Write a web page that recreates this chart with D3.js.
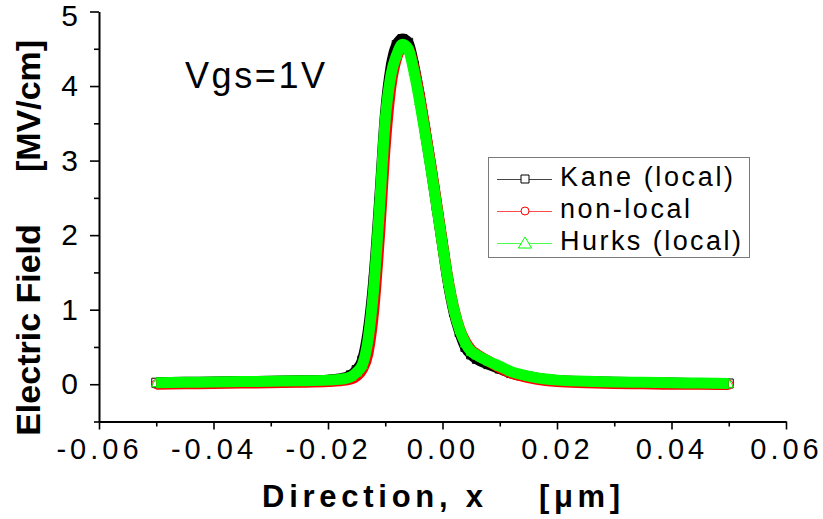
<!DOCTYPE html>
<html><head><meta charset="utf-8">
<script src="https://cdn.jsdelivr.net/npm/d3@7"></script>
<style>body{margin:0;background:#fff} svg{display:block}</style>
</head><body>
<svg id="c" width="823" height="519"></svg>
<script>
// ---- data ----
const xPos = [-0.050,-0.045,-0.040,-0.035,-0.030,-0.025,-0.020,-0.018,-0.016,-0.015,-0.014,-0.013,-0.012,-0.011,-0.010,-0.009,-0.008,-0.007,-0.006,-0.005,-0.004,-0.003,-0.002,-0.001,0.000,0.001,0.002,0.003,0.004,0.005,0.006,0.008,0.010,0.012,0.015,0.018,0.020,0.025,0.030,0.035,0.040,0.045,0.050];
const kane = [0.02,0.025,0.03,0.035,0.04,0.045,0.055,0.07,0.12,0.19,0.32,0.70,1.40,2.45,3.60,4.25,4.55,4.63,4.58,4.27,3.85,3.38,2.90,2.39,1.87,1.36,0.97,0.70,0.50,0.40,0.34,0.27,0.21,0.15,0.10,0.065,0.05,0.035,0.025,0.02,0.015,0.01,0.01];
const nonLocal = [0.0,0.005,0.01,0.015,0.02,0.025,0.035,0.045,0.07,0.11,0.20,0.42,1.00,2.00,3.20,4.00,4.38,4.52,4.50,4.24,3.86,3.40,2.92,2.41,1.89,1.39,1.01,0.74,0.57,0.46,0.40,0.31,0.22,0.15,0.09,0.05,0.035,0.02,0.01,0.005,0.0,0.0,-0.005];
const hurks = [0.02,0.025,0.03,0.035,0.04,0.045,0.055,0.065,0.10,0.16,0.26,0.60,1.30,2.37,3.55,4.15,4.42,4.56,4.50,4.20,3.80,3.35,2.88,2.38,1.87,1.38,1.00,0.73,0.55,0.44,0.39,0.31,0.24,0.17,0.11,0.07,0.055,0.04,0.03,0.025,0.02,0.015,0.01];
const seriesNames = ["Kane (local)", "non-local", "Hurks (local)"];
const xTicks = [-0.06,-0.04,-0.02,0.00,0.02,0.04,0.06];
const xTickLabels = ["-0.06","-0.04","-0.02","0.00","0.02","0.04","0.06"];
const xMinor = [-0.05,-0.03,-0.01,0.01,0.03,0.05];
const yTicks = [0,1,2,3,4,5];
const yMinor = [-0.5,0.5,1.5,2.5,3.5,4.5];

const FONT = "'Liberation Sans', Arial, sans-serif";
const svg = d3.select("#c");
const x = d3.scaleLinear().domain([-0.06, 0.06]).range([99, 786]);
const y = d3.scaleLinear().domain([-0.5, 5]).range([421.5, 11.5]);

// ---- series ----
const series = [
  {name: seriesNames[0], vals: kane, color: "#000000", shape: "square"},
  {name: seriesNames[1], vals: nonLocal, color: "#ff0000", shape: "circle"},
  {name: seriesNames[2], vals: hurks, color: "#00ff00", shape: "triangle"}
];
const line = d3.line().x((d,i)=>x(xPos[i])).y(d=>y(d)).curve(d3.curveMonotoneX);
function markerPath(shape, s) {
  if (shape === "square") return `M${-s/2},${-s/2}h${s}v${s}h${-s}Z`;
  if (shape === "circle") { const r = s/2; return `M${-r},0a${r},${r} 0 1,0 ${2*r},0a${r},${r} 0 1,0 ${-2*r},0Z`; }
  return `M0,${-s*0.5}L${s*0.55},${s*0.42}L${-s*0.55},${s*0.42}Z`;
}
const plot = svg.append("g");
series.forEach(s => {
  const g = plot.append("g");
  g.append("path").datum(s.vals).attr("d", line)
    .attr("fill","none").attr("stroke", s.color).attr("stroke-width", 11)
    .attr("stroke-linejoin","round");
  g.selectAll("path.m").data(s.vals).join("path").attr("class","m")
    .attr("transform",(d,i)=>`translate(${x(xPos[i])},${y(d)})`)
    .attr("d", markerPath(s.shape, 9))
    .attr("fill","none").attr("stroke", s.color).attr("stroke-width",1);
});

// ---- axes ----
const yAx = svg.append("g").attr("transform","translate(99,0)")
  .call(d3.axisLeft(y).tickValues(yTicks).tickSize(9).tickSizeOuter(0).tickPadding(12).tickFormat(d3.format("d")));
svg.append("g").attr("transform","translate(99,0)")
  .call(d3.axisLeft(y).tickValues(yMinor).tickSize(5).tickSizeOuter(0).tickFormat(""))
  .select(".domain").remove();
const xAx = svg.append("g").attr("transform","translate(0,421.5)")
  .call(d3.axisBottom(x).tickValues(xTicks).tickSize(8).tickSizeOuter(0).tickPadding(9).tickFormat((d,i)=>xTickLabels[i]));
svg.append("g").attr("transform","translate(0,421.5)")
  .call(d3.axisBottom(x).tickValues(xMinor).tickSize(5).tickSizeOuter(0).tickFormat(""))
  .select(".domain").remove();
svg.selectAll(".domain").attr("stroke","#000").attr("stroke-width",2);
svg.selectAll(".tick line").attr("stroke","#000").attr("stroke-width",1.6);
yAx.selectAll("text").attr("font-family",FONT).attr("font-size",30).attr("fill","#000");
// keep the top label inside the picture
yAx.selectAll(".tick").filter(d => d === 5).select("text").attr("y", 4);
xAx.selectAll("text").attr("font-family",FONT).attr("font-size",29).attr("fill","#000").attr("letter-spacing",4);

// ---- axis titles ----
svg.append("text").attr("transform","translate(40,330) rotate(-90)")
  .attr("text-anchor","middle").attr("font-family",FONT).attr("font-weight","bold")
  .attr("font-size",34).text("Electric Field");
svg.append("text").attr("transform","translate(40,106) rotate(-90)")
  .attr("text-anchor","middle").attr("font-family",FONT).attr("font-weight","bold")
  .attr("font-size",34).text("[MV/cm]");
svg.append("text").attr("x",262).attr("y",507).attr("font-family",FONT).attr("font-weight","bold")
  .attr("font-size",31).attr("textLength",221).attr("lengthAdjust","spacing").text("Direction, x");
svg.append("text").attr("x",539).attr("y",507).attr("font-family",FONT).attr("font-weight","bold")
  .attr("font-size",31).attr("textLength",81).attr("lengthAdjust","spacing").text("[μm]");

// ---- annotation ----
svg.append("text").attr("x",185).attr("y",88).attr("font-family",FONT)
  .attr("font-size",36).attr("textLength",140).attr("lengthAdjust","spacing").text("Vgs=1V");

// ---- legend ----
const lg = svg.append("g");
lg.append("rect").attr("x",488.5).attr("y",157.5).attr("width",261).attr("height",100)
  .attr("fill","#fff").attr("stroke","#7a7a7a").attr("stroke-width",1);
const rowsY = [179, 211, 243];
const textLens = [173, 130, 181];
const legLineCol = ["#444", "#ff4d4d", "#4dff4d"];
series.forEach((s,i) => {
  const ry = rowsY[i];
  lg.append("line").attr("x1",497).attr("x2",552).attr("y1",ry+0.5).attr("y2",ry+0.5)
    .attr("stroke",legLineCol[i]).attr("stroke-width",1);
  lg.append("path").attr("transform",`translate(525,${ry})`)
    .attr("d", markerPath(s.shape, s.shape==="triangle"?12:8))
    .attr("fill","#fff").attr("stroke", s.color).attr("stroke-width",1);
  lg.append("text").attr("x",560).attr("y",ry+7).attr("font-family",FONT).attr("font-size",27)
    .attr("textLength",textLens[i]).attr("lengthAdjust","spacing").text(s.name);
});
</script>
</body></html>
